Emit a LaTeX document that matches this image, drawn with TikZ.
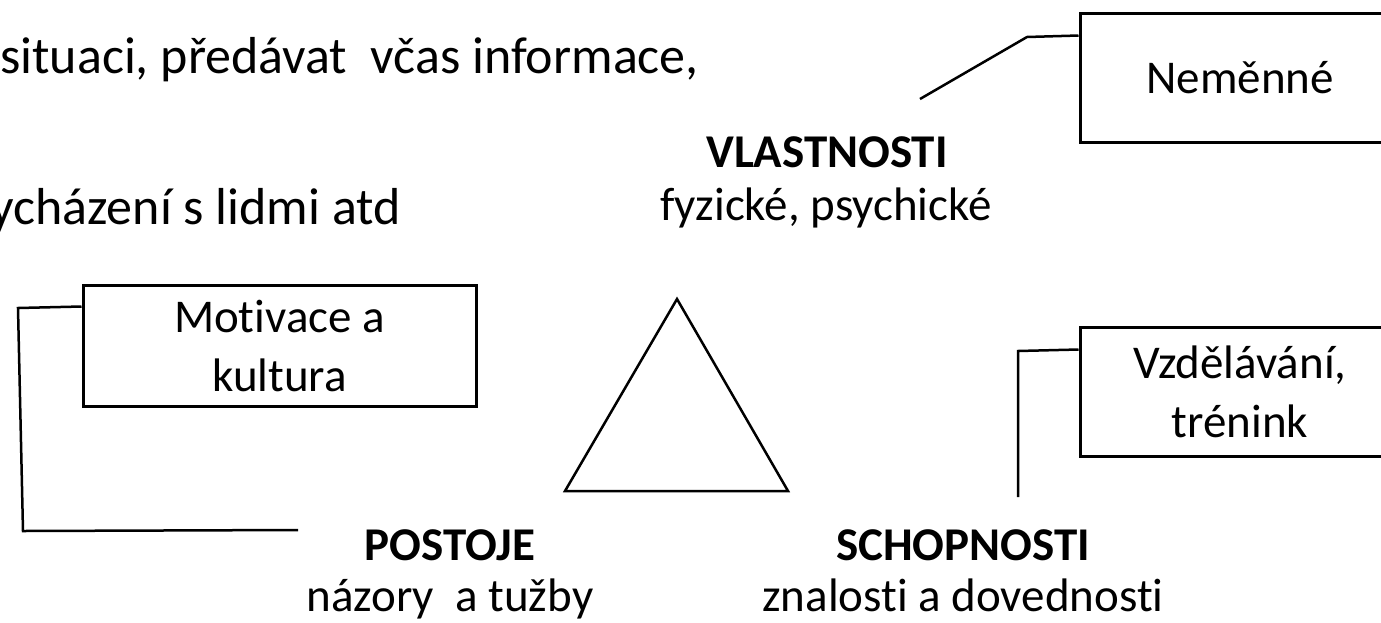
\documentclass[tikz,border=0pt]{standalone}
\usepackage{fontspec}
\setmainfont{Carlito}[Ligatures=NoCommon]
\usetikzlibrary{calc}

\tikzset{
  box/.style={draw, line width=3pt, inner sep=0pt, align=center,
              font=\fontsize{47}{59}\selectfont},
  conn/.style={draw, line width=2.5pt, line join=miter},
  title/.style={anchor=base, inner sep=0pt, font=\fontsize{47}{56}\selectfont\bfseries},
  sub/.style={anchor=base, inner sep=0pt, font=\fontsize{47}{56}\selectfont},
  toptext/.style={inner sep=0pt, font=\fontsize{52}{60}\selectfont},
}

\begin{document}
\begin{tikzpicture}[x=1pt, y=-1pt]
  \useasboundingbox (0,0) rectangle (1381,622);
  \clip (0,0) rectangle (1381,622);

  % running text at the top left
  \node[toptext, anchor=base west] (line1) at (0,73) {situaci, předávat\ \ včas informace,};
  \node[toptext, anchor=base east] (line2) at (401,224) {ycházení s lidmi atd};

  % the three corners of the triangle
  \node[title] (vl) at (827,167) {VLASTNOSTI};
  \node[sub]   (vlsub) at (826,220) {fyzické, psychické};

  \node[title] (po) at (450,560) {POSTOJE};
  \node[sub]   (posub) at (450,611) {názory\ \ a tužby};

  \node[title] (sch) at (963,560) {SCHOPNOSTI};
  \node[sub]   (schsub) at (963,611) {znalosti a dovednosti};

  % central triangle
  \draw[line width=2.5pt, line join=miter] (677,299) -- (788,491) -- (565,491) -- cycle;

  % boxes
  \node[box, minimum width=320pt, minimum height=129pt] (nem) at (1240,77.5) {Neměnné};
  \node[box, minimum width=393pt, minimum height=121pt] (mot) at (279.5,345.5) {Motivace a\\kultura};
  \node[box, minimum width=320pt, minimum height=129pt] (vzd) at (1240,391.5) {Vzdělávání,\\trénink};

  % free ends of the connectors
  \coordinate (vlEnd)  at (920,99);
  \coordinate (poEnd)  at (298,530);
  \coordinate (schEnd) at (1018,497);

  % connectors
  \draw[conn] ($(nem.north west)+(0,24)$) -- (1027,37) -- (vlEnd);
  \draw[conn] ($(mot.north west)+(0,23)$) -- (18,308) -- (23,531) -- (poEnd);
  \draw[conn] ($(vzd.north west)+(0,24)$) -- (1018,351) -- (schEnd);
\end{tikzpicture}
\end{document}
